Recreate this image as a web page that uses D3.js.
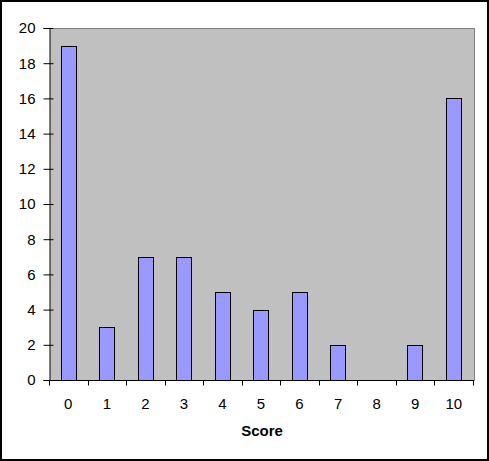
<!DOCTYPE html>
<html>
<head>
<meta charset="utf-8">
<script src="https://cdn.jsdelivr.net/npm/d3@7"></script>
<style>
  body { margin: 0; background: #fff; }
  svg { display: block; }
  text { font-family: Arial, "Liberation Sans", sans-serif; }
</style>
</head>
<body>
<div id="chart"></div>
<script>
var scores = ["0", "1", "2", "3", "4", "5", "6", "7", "8", "9", "10"];
var counts = [19, 3, 7, 7, 5, 4, 5, 2, 0, 2, 16];
var yTicks = [0, 2, 4, 6, 8, 10, 12, 14, 16, 18, 20];
var xTitle = "Score";

var w = 489, h = 461;
// plot area edges (note: "top" is reserved on window, so use pTop etc.)
var pLeft = 50, pRight = 474, pTop = 28, pBottom = 380;

var svg = d3.select("#chart").append("svg")
    .attr("width", w)
    .attr("height", h);

// outer frame
svg.append("rect")
    .attr("x", 1).attr("y", 1)
    .attr("width", w - 2).attr("height", h - 2)
    .attr("fill", "#fff")
    .attr("stroke", "#000")
    .attr("stroke-width", 2);

var xscale = d3.scaleBand()
    .domain(scores)
    .range([pLeft, pRight])
    .padding(0);

var yscale = d3.scaleLinear()
    .domain([0, 20])
    .range([pBottom, pTop]);

// plot area
svg.append("rect")
    .attr("x", pLeft).attr("y", pTop)
    .attr("width", pRight - pLeft).attr("height", pBottom - pTop)
    .attr("fill", "#c0c0c0");

svg.append("path")
    .attr("d", "M" + pLeft + "," + (pTop + 0.5) + "H" + (pRight + 0.5) + "V" + pBottom)
    .attr("fill", "none")
    .attr("stroke", "#808080");

// bars (gap width 150% -> bar is 40% of the band)
var barW = xscale.bandwidth() * 0.4;
svg.selectAll("rect.bar")
    .data(counts.map(function (d, i) { return { score: scores[i], count: d }; })
        .filter(function (d) { return d.count > 0; }))
    .enter().append("rect")
    .attr("class", "bar")
    .attr("x", function (d) {
        var cx = xscale(d.score) + xscale.bandwidth() / 2 - 1;
        return Math.round(cx - barW / 2) + 0.5;
    })
    .attr("y", function (d) { return Math.round(yscale(d.count)) + 0.5; })
    .attr("width", Math.round(barW))
    .attr("height", function (d) { return Math.round(yscale(0)) - Math.round(yscale(d.count)); })
    .attr("fill", "#9999ff")
    .attr("stroke", "#000")
    .attr("stroke-width", 1);

// y axis, ticks cross the axis line
var yaxis = d3.axisLeft(yscale)
    .tickValues(yTicks)
    .tickSize(6)
    .tickPadding(8)
    .tickFormat(d3.format("d"));

var gy = svg.append("g")
    .attr("transform", "translate(" + (pLeft - 0.5) + ",0)")
    .call(yaxis);
gy.select(".domain").attr("stroke", "#000");
gy.selectAll(".tick line").attr("x2", -6).attr("x1", 4).attr("stroke", "#000");
gy.selectAll("text")
    .attr("font-size", 15)
    .attr("font-family", "Arial, 'Liberation Sans', sans-serif")
    .attr("fill", "#000");

// x axis: ticks at category boundaries
var gx = svg.append("g")
    .attr("transform", "translate(0," + (pBottom + 0.5) + ")");

gx.append("line")
    .attr("x1", pLeft - 0.5).attr("x2", pRight + 0.5)
    .attr("stroke", "#000");

var bounds = scores.map(function (s) { return xscale(s); }).concat([pRight]);
gx.selectAll("line.tick")
    .data(bounds)
    .enter().append("line")
    .attr("class", "tick")
    .attr("x1", function (d) { return Math.round(d) - 0.5; })
    .attr("x2", function (d) { return Math.round(d) - 0.5; })
    .attr("y1", 0).attr("y2", 5)
    .attr("stroke", "#000");

gx.selectAll("text")
    .data(scores)
    .enter().append("text")
    .attr("x", function (d) { return xscale(d) + xscale.bandwidth() / 2 - 1; })
    .attr("y", 28)
    .attr("text-anchor", "middle")
    .attr("font-size", 15)
    .attr("fill", "#000")
    .text(function (d) { return d; });

svg.append("text")
    .attr("x", (pLeft + pRight) / 2)
    .attr("y", 436)
    .attr("text-anchor", "middle")
    .attr("font-size", 15)
    .attr("font-weight", "bold")
    .attr("fill", "#000")
    .text(xTitle);
</script>
</body>
</html>
